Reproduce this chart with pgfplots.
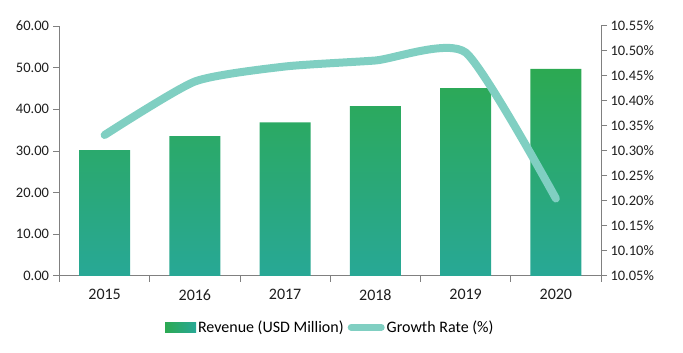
\documentclass[border=0pt]{standalone}
\usepackage{pgfplots}
\pgfplotsset{compat=1.18}
\usepackage{fontspec}
\setmainfont{Carlito}
\definecolor{bartop}{RGB}{44,169,82}
\definecolor{barbot}{RGB}{40,168,150}
\definecolor{growth}{RGB}{128,207,194}
\definecolor{axgray}{RGB}{128,128,128}
\definecolor{txt}{RGB}{30,30,30}
\begin{document}
\begin{tikzpicture}
\pgfplotsset{
  common/.style={
    scale only axis, width=541.5pt, height=250pt,
    at={(0,0)}, anchor=south west,
    xmin=-0.5, xmax=5.5,
    /pgf/number format/assume math mode=true,
    tick label style={font=\fontsize{14.5}{16}\selectfont, text=txt},
    axis line style={axgray, line width=1pt},
    every tick/.style={axgray, line width=1pt},
    tick align=outside,
  }
}
\begin{axis}[common,
  axis y line*=left, axis x line*=bottom,
  ymin=0, ymax=60, ytick={0,10,...,60},
  yticklabel={\pgfmathprintnumber[fixed,fixed zerofill,precision=2]{\tick}},
  xtick={0,...,5}, xticklabels={2015,2016,2017,2018,2019,2020},
  minor xtick={-0.5,0.5,...,5.5},
  major x tick style={draw=none},
  minor tick length=6pt, major tick length=6pt,
  xticklabel style={yshift=-4pt, font=\fontsize{16}{18}\selectfont},
  yticklabel style={xshift=-1pt},
]
\addplot[ybar, bar width=51pt, draw=none, top color=bartop, bottom color=barbot]
  coordinates {(0,30.2) (1,33.6) (2,36.9) (3,40.8) (4,45.1) (5,49.7)};
\end{axis}
\begin{axis}[common,
  axis y line*=right, axis x line=none,
  ymin=10.05, ymax=10.55, ytick={10.05,10.10,...,10.56},
  yticklabel={\pgfmathprintnumber[fixed,fixed zerofill,precision=2]{\tick}\%},
  major tick length=6pt,
  legend style={at={(0.5,-0.205)}, anchor=center, draw=none, fill=none,
    legend columns=2, font=\fontsize{16}{18}\selectfont,
    /tikz/every even column/.append style={column sep=2pt}},
  legend image code/.code={\draw[#1] (0cm,0cm) -- (1.3cm,0cm);},
]
\addlegendimage{draw=none, legend image code/.code={\fill[top color=bartop, bottom color=barbot, left color=bartop, right color=barbot] (0cm,-5pt) rectangle (31pt,5pt);}}
\addlegendentry{Revenue (USD Million)}
\addplot[growth, line width=8pt, line cap=round, smooth, tension=0.35,
  legend image code/.code={\draw[growth, line width=7pt, line cap=round] (3pt,0pt) -- (33pt,0pt);}]
  coordinates {(0,10.332) (1,10.439) (2,10.469) (3,10.481) (4,10.497) (5,10.205)};
\addlegendentry{Growth Rate (\%)}
\end{axis}
\path[use as bounding box] (-59.5pt,-77pt) rectangle (623.5pt,276pt);
\end{tikzpicture}
\end{document}
